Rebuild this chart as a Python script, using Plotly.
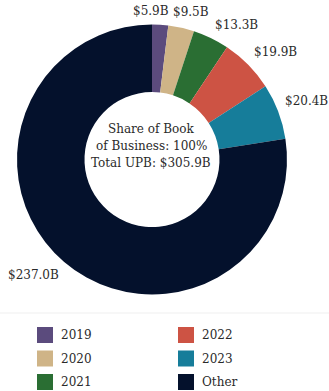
import math
import plotly.graph_objects as go

# Unpaid principal balance by origination vintage ($B)
vintages = ["2019", "2020", "2021", "2022", "2023", "Other"]
upb_billions = [5.9, 9.5, 13.3, 19.9, 20.4, 237.0]
slice_colors = ["#5b4b7d", "#cfb487", "#2a6e33", "#cd5344", "#167d9a", "#04112c"]
total_upb = 305.9
center_lines = ["Share of Book", "of Business: 100%", f"Total UPB: ${total_upb:.1f}B"]

SERIF = "DejaVu Serif"
TEXT_COLOR = "#2a2a2a"
W, H = 329, 391

# Donut placement in pixels
CX, CY, R = 152, 159.5, 135
HOLE = 0.5


def px(x):
    return x / W


def py(y):
    return 1 - y / H


fig = go.Figure()

fig.add_trace(go.Pie(
    labels=vintages,
    values=upb_billions,
    textinfo="none",
    marker=dict(colors=slice_colors, line=dict(width=0)),
    hole=HOLE,
    sort=False,
    direction="clockwise",
    rotation=0,
    showlegend=False,
    domain=dict(x=[px(CX - R), px(CX + R)], y=[py(CY + R), py(CY - R)]),
    hoverinfo="label+value",
))

annotations = []
shapes = []

# Value labels just outside each slice, at its mid-angle
label_r = R + 5
nudge_x = {0: -9, 1: 9}
nudge_y = {1: 2}
total = sum(upb_billions)
cum = 0.0
for i, v in enumerate(upb_billions):
    mid = (cum + v / 2) / total * 2 * math.pi
    cum += v
    s, c = math.sin(mid), math.cos(mid)
    lx, ly = CX + label_r * s, CY - label_r * c
    xa = "left" if s > 0.3 else ("right" if s < -0.3 else "center")
    ya = "bottom" if c > 0.3 else ("top" if c < -0.3 else "middle")
    annotations.append(dict(
        x=px(lx), y=py(ly), xref="paper", yref="paper",
        xanchor=xa, yanchor=ya,
        xshift=nudge_x.get(i, 0), yshift=nudge_y.get(i, 0),
        text=f"${v:.1f}B", showarrow=False,
        font=dict(family=SERIF, size=12, color=TEXT_COLOR),
    ))

# Centre caption inside the hole
for line, ypix in zip(center_lines, [129, 146, 163]):
    annotations.append(dict(
        x=px(CX - 1), y=py(ypix), xref="paper", yref="paper",
        xanchor="center", yanchor="middle",
        text=line, showarrow=False,
        font=dict(family=SERIF, size=12, color=TEXT_COLOR),
    ))

# Divider above the legend
shapes.append(dict(
    type="line", xref="paper", yref="paper",
    x0=0.0, x1=1.0, y0=py(313), y1=py(313),
    line=dict(color="#efefef", width=1),
))

# Legend: two columns of three swatches with labels
SWATCH = 16
col_x = [37, 178]
row_y = [335, 358.5, 382]
for i, (name, color) in enumerate(zip(vintages, slice_colors)):
    x0 = col_x[i // 3]
    yc = row_y[i % 3]
    shapes.append(dict(
        type="rect", xref="paper", yref="paper",
        x0=px(x0), x1=px(x0 + SWATCH),
        y0=py(yc + SWATCH / 2), y1=py(yc - SWATCH / 2),
        fillcolor=color, line=dict(width=0),
    ))
    annotations.append(dict(
        x=px(x0 + SWATCH + 6), y=py(yc), xref="paper", yref="paper",
        xanchor="left", yanchor="middle",
        text=name, showarrow=False,
        font=dict(family=SERIF, size=12, color=TEXT_COLOR),
    ))

fig.update_layout(
    width=W,
    height=H,
    margin=dict(l=0, r=0, t=0, b=0),
    paper_bgcolor="white",
    plot_bgcolor="white",
    annotations=annotations,
    shapes=shapes,
)

fig.write_html("out.html")
